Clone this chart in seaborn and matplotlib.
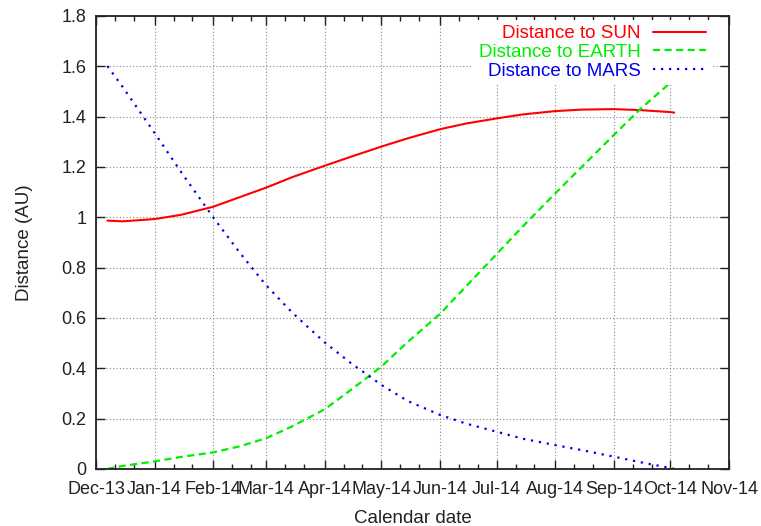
import numpy as np
import pandas as pd
import matplotlib
matplotlib.use("Agg")
import matplotlib.pyplot as plt
import matplotlib.dates as mdates
from matplotlib.ticker import MultipleLocator, FuncFormatter
import seaborn as sns

# values
dates = ["2013-12-07", "2013-12-15", "2014-01-01", "2014-01-15", "2014-02-01",
         "2014-02-15", "2014-03-01", "2014-03-15", "2014-04-01", "2014-04-15",
         "2014-05-01", "2014-05-15", "2014-06-01", "2014-06-15", "2014-07-01",
         "2014-07-15", "2014-08-01", "2014-08-15", "2014-09-01", "2014-09-15",
         "2014-10-01", "2014-10-03"]
dist_sun = [0.987, 0.984, 0.993, 1.010, 1.042, 1.080, 1.118, 1.160, 1.205, 1.241,
            1.281, 1.314, 1.350, 1.373, 1.393, 1.409, 1.422, 1.428, 1.430, 1.426,
            1.418, 1.416]
dist_earth = [0.000, 0.012, 0.030, 0.048, 0.066, 0.090, 0.122, 0.170, 0.237, 0.315,
              0.407, 0.505, 0.616, 0.727, 0.854, 0.965, 1.095, 1.200, 1.327, 1.430,
              1.535, 1.546]
dist_mars = [1.601, 1.519, 1.335, 1.180, 1.000, 0.860, 0.730, 0.620, 0.503, 0.420,
             0.334, 0.270, 0.215, 0.180, 0.148, 0.120, 0.095, 0.075, 0.049, 0.027,
             0.004, 0.000]
labels = ["Distance to SUN", "Distance to EARTH", "Distance to MARS"]

df = pd.DataFrame({"date": pd.to_datetime(dates),
                   "sun": dist_sun, "earth": dist_earth, "mars": dist_mars})

sns.set_style("ticks")
plt.rcParams["font.family"] = ["Liberation Sans", "DejaVu Sans"]
plt.rcParams["font.size"] = 13.5

fig = plt.figure(figsize=(7.61, 5.26), dpi=100)
ax = fig.add_axes([0.1262, 0.1084, 0.8318, 0.8612])

sns.lineplot(data=df, x="date", y="sun", ax=ax, color="#ff0000", lw=1.5,
             linestyle="-", label=labels[0])
sns.lineplot(data=df, x="date", y="earth", ax=ax, color="#00ee00", lw=1.6,
             linestyle=(0, (3.2, 2.0)), label=labels[1])
sns.lineplot(data=df, x="date", y="mars", ax=ax, color="#0000ee", lw=1.6,
             linestyle=(0, (1.0, 2.6)), label=labels[2])

ax.set_xlim(pd.Timestamp("2013-12-01"), pd.Timestamp("2014-11-01"))
ax.set_ylim(0, 1.8)
ax.xaxis.set_major_locator(mdates.MonthLocator())
ax.xaxis.set_minor_locator(mdates.DayLocator(bymonthday=[11, 21]))
ax.xaxis.set_major_formatter(mdates.DateFormatter("%b-%y"))
ax.yaxis.set_major_locator(MultipleLocator(0.2))
ax.yaxis.set_major_formatter(FuncFormatter(lambda v, p: "%g" % round(v, 2)))

ax.tick_params(axis="both", which="both", direction="in", top=True, right=True,
               colors="#222222", labelcolor="#222222", labelsize=13)
ax.tick_params(axis="both", which="major", length=6.5, width=1.0)
ax.tick_params(axis="x", which="minor", length=3.5, width=1.0)
ax.tick_params(axis="x", which="major", pad=9)
ax.tick_params(axis="y", which="major", pad=7)
for s in ax.spines.values():
    s.set_linewidth(1.3)
    s.set_color("#222222")

ax.grid(True, which="major", color="#888888", linestyle=(0, (1, 2)), lw=0.8)
ax.set_axisbelow(True)

ax.set_xlabel("Calendar date", color="#222222", labelpad=8)
ax.set_ylabel("Distance (AU)", color="#222222", labelpad=20)

leg = ax.legend(loc="upper right", bbox_to_anchor=(0.972, 0.992), borderaxespad=0,
                borderpad=0.3, markerfirst=False, handlelength=2.8,
                handletextpad=0.66, labelspacing=0.08,
                frameon=True, fancybox=False, framealpha=1, labelcolor="linecolor")
leg.get_frame().set_facecolor("white")
leg.get_frame().set_edgecolor("none")
leg.set_zorder(2.2)

plt.savefig("out.png", dpi=100)
